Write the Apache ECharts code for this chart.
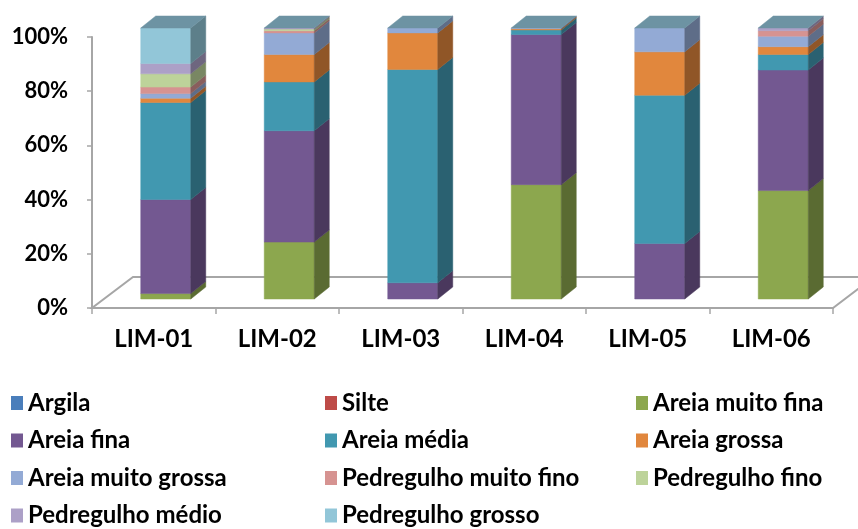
<!DOCTYPE html>
<html>
<head>
<meta charset="utf-8">
<script src="https://cdn.jsdelivr.net/npm/echarts@6/dist/echarts.min.js"></script>
<style>
  html, body { margin: 0; padding: 0; background: #ffffff; }
  #chart { width: 858px; height: 529px; }
</style>
</head>
<body>
<div id="chart"></div>
<script>
// Amostras (eixo das categorias)
const categories = ['LIM-01', 'LIM-02', 'LIM-03', 'LIM-04', 'LIM-05', 'LIM-06'];

// Frações granulométricas (%), na ordem de empilhamento
const classNames = [
  'Argila', 'Silte', 'Areia muito fina', 'Areia fina', 'Areia média', 'Areia grossa',
  'Areia muito grossa', 'Pedregulho muito fino', 'Pedregulho fino', 'Pedregulho médio', 'Pedregulho grosso'
];
const argila              = [0, 0, 0, 0, 0, 0];
const silte               = [0, 0, 0, 0, 0, 0];
const areiaMuitoFina      = [2.0, 21.0, 0, 42.2, 0, 40.0];
const areiaFina           = [34.7, 41.1, 6.0, 55.4, 20.5, 44.5];
const areiaMedia          = [35.8, 18.0, 78.7, 1.7, 54.7, 5.7];
const areiaGrossa         = [1.6, 10.1, 13.5, 0.4, 16.0, 2.9];
const areiaMuitoGrossa    = [1.7, 8.0, 1.8, 0.3, 8.8, 3.9];
const pedregulhoMuitoFino = [2.4, 0.8, 0, 0, 0, 2.0];
const pedregulhoFino      = [4.9, 0.6, 0, 0, 0, 0];
const pedregulhoMedio     = [3.8, 0.4, 0, 0, 0, 1.0];
const pedregulhoGrosso    = [13.1, 0, 0, 0, 0, 0];

// Rótulos do eixo de valores
const valueTicks = [0, 20, 40, 60, 80, 100];

const seriesValues = [
  argila, silte, areiaMuitoFina, areiaFina, areiaMedia, areiaGrossa,
  areiaMuitoGrossa, pedregulhoMuitoFino, pedregulhoFino, pedregulhoMedio, pedregulhoGrosso
];

const colors = [
  '#4A7EBB', '#BE4B48', '#8CA74E', '#735891', '#4198B0', '#E1873D',
  '#93AAD5', '#D69391', '#BDD39A', '#ACA0C7', '#92C6D8'
];
const TOP_COLOR = '#6D93A3';
const FONT = 'Lato, "Open Sans", sans-serif';

// Perspectiva "3D": deslocamentos em pixels
const BAR_SHIFT = [12, -9];    // face frontal das colunas em relação ao plano frontal
const BAR_DEPTH = [15, -12];   // profundidade das colunas
const FLOOR_DEPTH = [41, -31]; // profundidade do piso
const BAR_FRAC = 0.405;        // largura da coluna / largura da categoria

function shade(hex, f) {
  const n = parseInt(hex.slice(1), 16);
  const r = Math.round(((n >> 16) & 255) * f);
  const g = Math.round(((n >> 8) & 255) * f);
  const b = Math.round((n & 255) * f);
  return 'rgb(' + r + ',' + g + ',' + b + ')';
}

// índice da fração mais alta não nula de cada amostra (recebe a face superior)
const topIndex = categories.map((c, j) => {
  let t = -1;
  seriesValues.forEach((arr, i) => { if (arr[j] > 0) t = i; });
  return t;
});

const chart = echarts.init(document.getElementById('chart'), null, { renderer: 'canvas' });

const floorSeries = {
  type: 'custom',
  name: '__piso',
  z: 1,
  clip: false,
  silent: true,
  data: [[0, 0]],
  renderItem: function (params, api) {
    const cs = params.coordSys;
    const x0 = cs.x, x1 = cs.x + cs.width, y = cs.y + cs.height;
    return {
      type: 'polygon',
      shape: { points: [
        [x0, y], [x1, y],
        [x1 + FLOOR_DEPTH[0], y + FLOOR_DEPTH[1]],
        [x0 + FLOOR_DEPTH[0], y + FLOOR_DEPTH[1]]
      ] },
      style: { fill: '#ffffff', stroke: '#A6A6A6', lineWidth: 2 }
    };
  }
};

const barSeries = classNames.map((name, i) => ({
  type: 'custom',
  name: name,
  z: 2,
  clip: false,
  itemStyle: { color: colors[i] },
  data: categories.map((c, j) => [j, seriesValues[i][j]]),
  renderItem: function (params, api) {
    const j = api.value(0);
    const v = api.value(1);
    if (!(v > 0)) return null;
    let base = 0;
    for (let k = 0; k < i; k++) base += seriesValues[k][j];
    const pb = api.coord([j, base]);
    const pt = api.coord([j, base + v]);
    const hw = api.size([1, 0])[0] * BAR_FRAC / 2;
    const xl = pb[0] + BAR_SHIFT[0] - hw;
    const xr = pb[0] + BAR_SHIFT[0] + hw;
    const yb = pb[1] + BAR_SHIFT[1];
    const yt = pt[1] + BAR_SHIFT[1];
    const dx = BAR_DEPTH[0], dy = BAR_DEPTH[1];
    const front = colors[i];
    const side = shade(colors[i], 0.64);
    const children = [
      {
        type: 'polygon',
        shape: { points: [[xl, yb], [xr, yb], [xr, yt], [xl, yt]] },
        style: { fill: front, stroke: front, lineWidth: 0.5 }
      },
      {
        type: 'polygon',
        shape: { points: [[xr, yb], [xr + dx, yb + dy], [xr + dx, yt + dy], [xr, yt]] },
        style: { fill: side, stroke: side, lineWidth: 0.5 }
      }
    ];
    if (topIndex[j] === i) {
      children.push({
        type: 'polygon',
        shape: { points: [[xl, yt], [xr, yt], [xr + dx, yt + dy], [xl + dx, yt + dy]] },
        style: { fill: TOP_COLOR, stroke: TOP_COLOR, lineWidth: 0.5 }
      });
    }
    return { type: 'group', children: children };
  }
}));

const legendText = { fontFamily: FONT, fontWeight: 'bold', fontSize: 24, color: '#000', lineHeight: 26 };
function legendColumn(names, left) {
  return {
    type: 'plain',
    orient: 'vertical',
    left: left,
    top: 390,
    height: 200,
    padding: 0,
    itemWidth: 12,
    itemHeight: 14,
    itemGap: 11.5,
    icon: 'rect',
    selectedMode: false,
    textStyle: legendText,
    data: names
  };
}

chart.setOption({
  animation: false,
  backgroundColor: '#ffffff',
  grid: { left: 92, right: 25, top: 37, bottom: 221, containLabel: false },
  legend: [
    legendColumn(['Argila', 'Areia fina', 'Areia muito grossa', 'Pedregulho médio'], 11),
    legendColumn(['Silte', 'Areia média', 'Pedregulho muito fino', 'Pedregulho grosso'], 325),
    legendColumn(['Areia muito fina', 'Areia grossa', 'Pedregulho fino'], 636)
  ],
  xAxis: {
    type: 'category',
    data: categories,
    boundaryGap: true,
    axisLine: { show: true, lineStyle: { color: '#A6A6A6', width: 2 } },
    axisTick: { show: true, length: 6, alignWithLabel: false, lineStyle: { color: '#A6A6A6', width: 1.5 } },
    axisLabel: { margin: 19, fontFamily: FONT, fontWeight: 'bold', fontSize: 24, color: '#000' },
    splitLine: { show: false },
    z: 3
  },
  yAxis: {
    type: 'value',
    min: valueTicks[0],
    max: valueTicks[valueTicks.length - 1],
    interval: valueTicks[1] - valueTicks[0],
    axisLine: { show: true, lineStyle: { color: '#A6A6A6', width: 2 } },
    axisTick: { show: true, length: 5, lineStyle: { color: '#A6A6A6', width: 1.5 } },
    axisLabel: { margin: 24, formatter: '{value}%', fontFamily: FONT, fontWeight: 'bold', fontSize: 22, color: '#000' },
    splitLine: { show: false }
  },
  series: [floorSeries].concat(barSeries)
});
</script>
</body>
</html>
